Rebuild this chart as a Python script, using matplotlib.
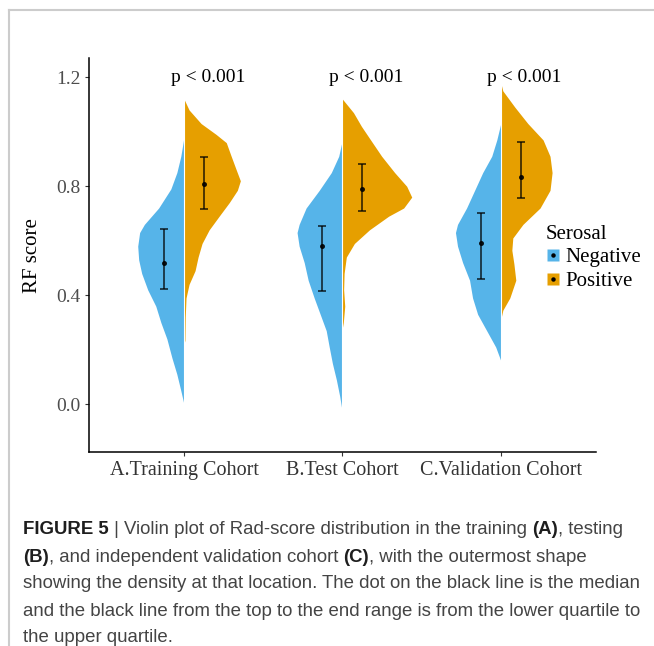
import numpy as np
import matplotlib.pyplot as plt
from matplotlib.lines import Line2D

# cohorts and groups
cohorts = ["A.Training Cohort", "B.Test Cohort", "C.Validation Cohort"]
groups = ["Negative", "Positive"]
colors = {"Negative": "#56B4E9", "Positive": "#E69F00"}
p_labels = ["p < 0.001", "p < 0.001", "p < 0.001"]

# half-violin profiles: score -> half width
train_neg_y = [0.98, 0.91, 0.85, 0.79, 0.72, 0.66, 0.63, 0.58, 0.53, 0.48, 0.42, 0.36, 0.30, 0.24, 0.17, 0.11, 0.05, 0.0]
train_neg_w = [0, 0.02, 0.045, 0.083, 0.16, 0.25, 0.28, 0.292, 0.286, 0.267, 0.229, 0.178, 0.146, 0.108, 0.076, 0.045, 0.02, 0]
train_pos_y = [1.12, 1.08, 1.03, 0.99, 0.96, 0.91, 0.86, 0.82, 0.785, 0.74, 0.69, 0.64, 0.59, 0.54, 0.49, 0.44, 0.39, 0.32, 0.235, 0.22]
train_pos_w = [0, 0.032, 0.108, 0.203, 0.267, 0.298, 0.33, 0.356, 0.337, 0.286, 0.222, 0.159, 0.114, 0.089, 0.07, 0.032, 0.013, 0.008, 0.006, 0]

test_neg_y = [0.97, 0.91, 0.85, 0.785, 0.72, 0.66, 0.63, 0.58, 0.52, 0.455, 0.39, 0.33, 0.27, 0.21, 0.15, 0.09, 0.03, -0.03]
test_neg_w = [0, 0.023, 0.07, 0.146, 0.229, 0.273, 0.286, 0.273, 0.241, 0.216, 0.178, 0.14, 0.102, 0.083, 0.063, 0.038, 0.017, 0]
test_pos_y = [1.12, 1.07, 1.02, 0.97, 0.91, 0.85, 0.80, 0.76, 0.72, 0.69, 0.64, 0.59, 0.54, 0.48, 0.42, 0.36, 0.30, 0.28]
test_pos_w = [0, 0.07, 0.12, 0.178, 0.248, 0.33, 0.406, 0.438, 0.387, 0.292, 0.171, 0.076, 0.025, 0.011, 0.008, 0.015, 0.006, 0]

val_neg_y = [1.03, 0.97, 0.91, 0.85, 0.785, 0.72, 0.66, 0.63, 0.58, 0.52, 0.455, 0.39, 0.33, 0.27, 0.21, 0.16]
val_neg_w = [0, 0.025, 0.057, 0.114, 0.165, 0.216, 0.273, 0.286, 0.273, 0.241, 0.197, 0.178, 0.146, 0.089, 0.032, 0]
val_pos_y = [1.18, 1.15, 1.09, 1.03, 0.97, 0.91, 0.85, 0.785, 0.72, 0.66, 0.61, 0.565, 0.515, 0.455, 0.39, 0.345, 0.31]
val_pos_w = [0, 0.013, 0.089, 0.171, 0.267, 0.311, 0.324, 0.311, 0.248, 0.14, 0.076, 0.07, 0.083, 0.095, 0.057, 0.013, 0]

profiles = [
    ((train_neg_y, train_neg_w), (train_pos_y, train_pos_w)),
    ((test_neg_y, test_neg_w), (test_pos_y, test_pos_w)),
    ((val_neg_y, val_neg_w), (val_pos_y, val_pos_w)),
]

# median, lower quartile, upper quartile per cohort
neg_median = [0.517, 0.581, 0.592]
neg_q1 = [0.422, 0.417, 0.461]
neg_q3 = [0.642, 0.654, 0.702]
pos_median = [0.807, 0.790, 0.834]
pos_q1 = [0.716, 0.709, 0.758]
pos_q3 = [0.906, 0.880, 0.963]

serif = ["Liberation Serif", "DejaVu Serif"]

fig = plt.figure(figsize=(6.54, 6.46), dpi=100)
ax = fig.add_axes([0.136, 0.300, 0.775, 0.610])

for i, ((ny, nw), (py, pw)) in enumerate(profiles):
    x0 = i + 1
    ax.fill_betweenx(ny, x0 - np.array(nw), x0, color=colors["Negative"], lw=0)
    ax.fill_betweenx(py, x0, x0 + np.array(pw), color=colors["Positive"], lw=0)
    ax.plot([x0, x0], [min(ny[-1], py[-1]), max(ny[0], py[0])], color="white", lw=0.8)

xs = np.arange(1, 4)
for med, lo, hi, dx in [(neg_median, neg_q1, neg_q3, -0.127), (pos_median, pos_q1, pos_q3, 0.127)]:
    med, lo, hi = np.array(med), np.array(lo), np.array(hi)
    ax.errorbar(xs + dx, med, yerr=[med - lo, hi - med], fmt="o", ms=2.6,
                color="black", alpha=0.85, capsize=3, lw=1.1, capthick=1.1)

for x0, lab in zip(xs, p_labels):
    ax.text(x0 + 0.15, 1.2, lab, ha="center", va="center", fontsize=14, family=serif)

ax.set_xlim(0.4, 3.6)
ax.set_ylim(-0.176, 1.27)
ax.set_xticks(xs)
ax.set_xticklabels(cohorts, family=serif, fontsize=14.5, color="#333333")
ax.set_yticks([0.0, 0.4, 0.8, 1.2])
ax.set_yticklabels(["0.0", "0.4", "0.8", "1.2"], family=serif, fontsize=14, color="#4d4d4d")
ax.set_ylabel("RF score", family=serif, fontsize=15, labelpad=10)
ax.tick_params(length=3, width=0.8, color="#333333", pad=3)
for s in ["top", "right"]:
    ax.spines[s].set_visible(False)
for s in ["left", "bottom"]:
    ax.spines[s].set_linewidth(1.1)

handles = [(Line2D([], [], marker="s", ms=8, mfc=colors[g], mec="none", ls=""),
            Line2D([], [], marker="o", ms=2.2, color="black", ls="")) for g in groups]
leg = fig.legend(handles, groups, loc="upper left", bbox_to_anchor=(0.822, 0.665),
                 frameon=False, title="Serosal", handlelength=0.7, handletextpad=0.25,
                 labelspacing=0.2, borderaxespad=0,
                 prop={"family": serif, "size": 15}, title_fontproperties={"family": serif, "size": 15})
leg._legend_box.align = "left"

# frame lines around the figure panel
fig.add_artist(Line2D([9 / 654, 1], [1 - 10 / 646, 1 - 10 / 646], color="#cccccc", lw=1.5))
fig.add_artist(Line2D([9 / 654, 9 / 654], [0, 1 - 10 / 646], color="#cccccc", lw=1.5))

# caption, one list of (text, weight) pieces per line
caption = [
    [("FIGURE 5", "bold"), (" | Violin plot of Rad-score distribution in the training ", "normal"),
     ("(A)", "bold"), (", testing", "normal")],
    [("(B)", "bold"), (", and independent validation cohort ", "normal"), ("(C)", "bold"),
     (", with the outermost shape", "normal")],
    [("showing the density at that location. The dot on the black line is the median", "normal")],
    [("and the black line from the top to the end range is from the lower quartile to", "normal")],
    [("the upper quartile.", "normal")],
]
line_y = [528, 555, 582, 609, 636]
cap_font = ["Liberation Sans", "DejaVu Sans"]
for segs, yp in zip(caption, line_y):
    prev = None
    for txt, wt in segs:
        col = "#1e1e1e" if wt == "bold" else "#444444"
        if prev is None:
            prev = fig.text(23 / 654, 1 - yp / 646, txt, fontsize=13.4, weight=wt, color=col,
                            family=cap_font, va="center_baseline", ha="left")
        else:
            prev = ax.annotate(txt, xy=(1, 0), xycoords=prev, xytext=(0, 0),
                               textcoords="offset points", fontsize=13.4, weight=wt,
                               color=col, family=cap_font, va="bottom", ha="left",
                               annotation_clip=False)

fig.savefig("out.png", dpi=100)
